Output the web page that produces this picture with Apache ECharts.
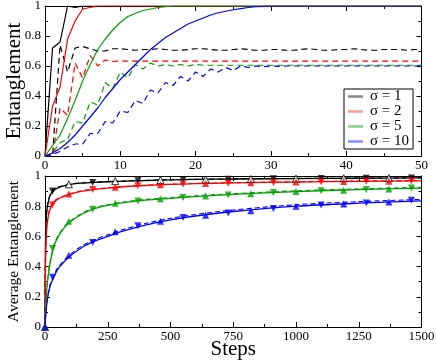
<!DOCTYPE html>
<html>
<head>
<meta charset="utf-8">
<script src="https://cdn.jsdelivr.net/npm/echarts@6/dist/echarts.min.js"></script>
<style>
  html, body { margin: 0; padding: 0; background: #fff; }
  #chart { width: 436px; height: 364px; }
</style>
</head>
<body>
<div id="chart"></div>
<script>
// top panel: entanglement vs time (solid = one quantity, dashed = the other)
const topSteps = [0,1,2,3,4,5,6,7,8,9,10,11,12,13,14,15,16,17,18,19,20,21,22,23,24,25,26,27,28,29,30,31,32,33,34,35,36,37,38,39,40,41,42,43,44,45,46,47,48,49,50];
const solid1 = [0,0.72,0.76,1,0.99,1,1,1,1,1,1,1,1,1,1,1,1,1,1,1,1,1,1,1,1,1,1,1,1,1,1,1,1,1,1,1,1,1,1,1,1,1,1,1,1,1,1,1,1,1,1];
const solid2 = [0,0.33,0.46,0.78,0.9,0.98,0.99,1,1,1,1,1,1,1,1,1,1,1,1,1,1,1,1,1,1,1,1,1,1,1,1,1,1,1,1,1,1,1,1,1,1,1,1,1,1,1,1,1,1,1,1];
const solid5 = [0,0.07,0.14,0.25,0.37,0.5,0.61,0.71,0.78,0.84,0.89,0.93,0.95,0.97,0.98,0.99,0.995,1,1,1,1,1,1,1,1,1,1,1,1,1,1,1,1,1,1,1,1,1,1,1,1,1,1,1,1,1,1,1,1,1,1];
const solid10 = [0,0.02,0.05,0.09,0.14,0.2,0.26,0.32,0.39,0.45,0.51,0.56,0.61,0.66,0.71,0.75,0.79,0.82,0.85,0.88,0.9,0.92,0.94,0.955,0.965,0.975,0.983,0.99,0.995,0.998,1,1,1,1,1,1,1,1,1,1,1,1,1,1,1,1,1,1,1,1,1];
const dash1 = [0,0,0.74,0.56,0.72,0.73,0.715,0.70,0.70,0.715,0.715,0.71,0.705,0.71,0.71,0.715,0.71,0.705,0.705,0.71,0.715,0.715,0.71,0.705,0.705,0.71,0.715,0.71,0.705,0.705,0.71,0.71,0.705,0.705,0.71,0.715,0.71,0.705,0.705,0.71,0.71,0.715,0.71,0.705,0.705,0.71,0.71,0.71,0.705,0.71,0.71];
const dash2 = [0,0,0.32,0.27,0.62,0.52,0.67,0.60,0.64,0.63,0.633,0.633,0.633,0.633,0.633,0.633,0.633,0.633,0.633,0.633,0.633,0.633,0.633,0.633,0.633,0.633,0.633,0.633,0.633,0.633,0.633,0.633,0.633,0.633,0.633,0.633,0.633,0.633,0.633,0.633,0.633,0.633,0.633,0.633,0.633,0.633,0.633,0.633,0.633,0.633,0.633];
const dash5 = [0,0.02,0.09,0.11,0.23,0.22,0.36,0.34,0.49,0.45,0.56,0.52,0.61,0.58,0.62,0.6,0.61,0.6,0.61,0.6,0.61,0.605,0.605,0.605,0.605,0.605,0.605,0.605,0.605,0.605,0.605,0.605,0.605,0.605,0.605,0.605,0.605,0.605,0.605,0.605,0.605,0.605,0.605,0.605,0.605,0.605,0.605,0.605,0.605,0.605,0.605];
const dash10 = [0,0.01,0.03,0.06,0.08,0.08,0.15,0.15,0.23,0.22,0.30,0.29,0.37,0.35,0.44,0.42,0.49,0.47,0.53,0.50,0.56,0.53,0.58,0.56,0.59,0.57,0.60,0.59,0.60,0.595,0.60,0.598,0.60,0.60,0.60,0.60,0.60,0.60,0.60,0.60,0.60,0.60,0.60,0.60,0.60,0.60,0.60,0.60,0.60,0.60,0.60];

// bottom panel: average entanglement vs steps
const botSteps = [0,2,5,10,20,35,50,75,100,150,200,250,300,400,500,600,750,1000,1250,1500];
const avg1 = [0,0.55,0.72,0.8,0.87,0.905,0.92,0.935,0.945,0.953,0.958,0.962,0.965,0.97,0.974,0.977,0.98,0.983,0.985,0.987];
const avg2 = [0,0.4,0.6,0.7,0.78,0.825,0.845,0.865,0.88,0.9,0.912,0.92,0.927,0.937,0.944,0.949,0.954,0.96,0.965,0.968];
const avg5 = [0,0.1,0.2,0.3,0.42,0.53,0.59,0.655,0.695,0.75,0.785,0.805,0.82,0.84,0.852,0.864,0.878,0.897,0.91,0.92];
const avg10 = [0,0.06,0.12,0.19,0.27,0.33,0.38,0.43,0.47,0.53,0.57,0.6,0.63,0.675,0.71,0.735,0.765,0.8,0.82,0.835];
const avgDash1 = [0,0.56,0.73,0.81,0.875,0.91,0.925,0.937,0.946,0.955,0.96,0.963,0.966,0.971,0.975,0.978,0.981,0.984,0.986,0.988];
const avgDash2 = [0,0.41,0.61,0.71,0.79,0.83,0.85,0.868,0.883,0.903,0.914,0.922,0.929,0.939,0.946,0.951,0.956,0.962,0.967,0.97];
const avgDash5 = [0,0.1,0.21,0.31,0.43,0.54,0.6,0.66,0.7,0.755,0.79,0.81,0.825,0.845,0.857,0.869,0.883,0.902,0.915,0.925];
const avgDash10 = [0,0.06,0.12,0.19,0.28,0.34,0.39,0.44,0.48,0.54,0.58,0.61,0.64,0.685,0.72,0.745,0.775,0.81,0.83,0.845];

const upSteps = [0,95,280,460,640,820,1000,1190,1370];
const downSteps = [30,190,370,550,730,910,1100,1280,1460];
const up1 = [0,0.945,0.966,0.973,0.977,0.98,0.983,0.985,0.986];
const down1 = [0.9,0.957,0.968,0.975,0.979,0.982,0.984,0.985,0.987];
const up2 = [0,0.88,0.925,0.942,0.95,0.955,0.96,0.963,0.966];
const down2 = [0.81,0.91,0.935,0.947,0.952,0.957,0.962,0.965,0.968];
const up5 = [0,0.70,0.82,0.85,0.868,0.882,0.897,0.906,0.914];
const down5 = [0.52,0.78,0.835,0.858,0.875,0.89,0.902,0.91,0.92];
const up10 = [0,0.475,0.63,0.70,0.74,0.77,0.80,0.815,0.828];
const down10 = [0.33,0.56,0.67,0.725,0.755,0.785,0.808,0.822,0.84];

const sigmaNames = ['σ = 1','σ = 2','σ = 5','σ = 10'];
const colors = ['#000000','#ff0000','#00a000','#0000ff'];
const legendColors = ['#888888','#ff9a9a','#88cc88','#8a8aff'];

const font = 'Liberation Serif';

const zip = (xs, ys) => xs.map((x, i) => [x, ys[i]]);

function axis(extra) {
  return Object.assign({
    type: 'value',
    nameMoveOverlap: false,
    axisLine: { show: true, onZero: false, lineStyle: { color: '#000', width: 1 } },
    axisTick: { show: true, inside: true, length: 5, lineStyle: { color: '#000' } },
    minorTick: { show: true, splitNumber: 2, length: 3, lineStyle: { color: '#000' } },
    splitLine: { show: false },
    axisLabel: { color: '#000', fontFamily: font, fontSize: 13, margin: 3, formatter: v => String(v) }
  }, extra);
}

const hidden = { show: false };
const yLabel = { color: '#000', fontFamily: font, fontSize: 13, margin: 4, formatter: v => String(v) };

const xAxes = [
  axis({ gridIndex: 0, min: 0, max: 50, interval: 10, position: 'bottom' }),
  axis({ gridIndex: 0, min: 0, max: 50, interval: 10, position: 'top', axisLabel: hidden }),
  axis({ gridIndex: 1, min: 0, max: 1500, interval: 250, position: 'bottom',
    name: 'Steps', nameLocation: 'middle', nameGap: 12,
    nameTextStyle: { color: '#000', fontFamily: font, fontSize: 21 } }),
  axis({ gridIndex: 1, min: 0, max: 1500, interval: 250, position: 'top', axisLabel: hidden })
];
const yAxes = [
  axis({ gridIndex: 0, min: 0, max: 1, interval: 0.2, position: 'left', axisLabel: yLabel,
    name: 'Entanglement', nameLocation: 'middle', nameGap: 20,
    nameTextStyle: { color: '#000', fontFamily: font, fontSize: 21 } }),
  axis({ gridIndex: 0, min: 0, max: 1, interval: 0.2, position: 'right', axisLabel: hidden }),
  axis({ gridIndex: 1, min: 0, max: 1, interval: 0.2, position: 'left', axisLabel: yLabel,
    name: 'Average Entanglement', nameLocation: 'middle', nameGap: 23,
    nameTextStyle: { color: '#000', fontFamily: font, fontSize: 15.5 } }),
  axis({ gridIndex: 1, min: 0, max: 1, interval: 0.2, position: 'right', axisLabel: hidden })
];

const topSolid = [solid1, solid2, solid5, solid10];
const topDash = [dash1, dash2, dash5, dash10];
const botSolid = [avg1, avg2, avg5, avg10];
const botDash = [avgDash1, avgDash2, avgDash5, avgDash10];
const ups = [up1, up2, up5, up10];
const downs = [down1, down2, down5, down10];

const series = [];
colors.forEach((c, i) => {
  series.push({
    name: sigmaNames[i], type: 'line', xAxisIndex: 0, yAxisIndex: 0,
    data: zip(topSteps, topSolid[i]), showSymbol: false, color: c,
    lineStyle: { width: 1.2, color: c }, animation: false, z: 3
  });
  series.push({
    name: 'dash' + i, type: 'line', xAxisIndex: 0, yAxisIndex: 0,
    data: zip(topSteps, topDash[i]), showSymbol: false,
    lineStyle: { width: 1.2, color: c, type: [6, 4] }, animation: false, z: 2
  });
});
colors.forEach((c, i) => {
  series.push({
    name: 'avg' + i, type: 'line', xAxisIndex: 2, yAxisIndex: 2,
    data: zip(botSteps, botSolid[i]), showSymbol: false, smooth: 0.3,
    lineStyle: { width: 1.3, color: c }, animation: false, z: 3
  });
  series.push({
    name: 'avgDash' + i, type: 'line', xAxisIndex: 2, yAxisIndex: 2,
    data: zip(botSteps, botDash[i]), showSymbol: false, smooth: 0.3,
    lineStyle: { width: 1.1, color: c, type: [5, 3] }, animation: false, z: 2
  });
  series.push({
    name: 'up' + i, type: 'scatter', xAxisIndex: 2, yAxisIndex: 2,
    data: zip(upSteps, ups[i]), symbol: 'triangle', symbolSize: 7,
    itemStyle: i === 0 ? { color: '#fff', borderColor: c, borderWidth: 1 } : { color: c },
    animation: false, z: 4
  });
  series.push({
    name: 'down' + i, type: 'scatter', xAxisIndex: 2, yAxisIndex: 2,
    data: zip(downSteps, downs[i]), symbol: 'triangle', symbolRotate: 180, symbolSize: 7,
    itemStyle: { color: c }, animation: false, z: 4
  });
});

const chart = echarts.init(document.getElementById('chart'), null, { renderer: 'canvas' });
chart.setOption({
  backgroundColor: '#fff',
  animation: false,
  grid: [
    { left: 45, top: 6, right: 14.5, height: 150, containLabel: false, outerBoundsMode: 'none' },
    { left: 45, top: 176, right: 14.5, height: 151, containLabel: false, outerBoundsMode: 'none' }
  ],
  xAxis: xAxes,
  yAxis: yAxes,
  legend: {
    data: sigmaNames.map((n, i) => ({
      name: n, icon: 'rect',
      itemStyle: { color: legendColors[i] }
    })),
    orient: 'vertical',
    left: 344, top: 89,
    padding: [0, 4, 0, 4],
    itemGap: 0,
    itemWidth: 15, itemHeight: 2.5,
    borderColor: '#000', borderWidth: 1,
    backgroundColor: '#fff',
    textStyle: { color: '#000', fontFamily: font, fontSize: 15, lineHeight: 14, padding: [0, 0, 0, 2] },
    selectedMode: false
  },
  series: series
});
</script>
</body>
</html>
